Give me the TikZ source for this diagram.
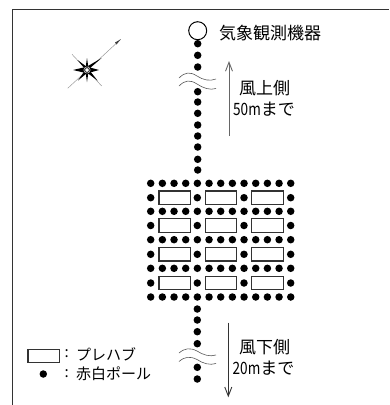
\documentclass[tikz,border=0pt]{standalone}
\usepackage{fontspec}
\usetikzlibrary{arrows.meta}
\newfontfamily\cjk{Noto Sans CJK JP}
\tikzset{
  pole/.style={circle,fill=black,inner sep=0pt,minimum size=7.5pt},
  hut/.style={draw=black!80,line width=1.2pt,fill=white,minimum width=31.5pt,minimum height=13.5pt,inner sep=0pt},
  lab/.style={font=\cjk\fontsize{17}{20}\selectfont,inner sep=0pt},
  labs/.style={font=\cjk\fontsize{15}{18}\selectfont,inner sep=0pt},
  brk/.style={black!65,line width=.6pt},
  dirn/.style={black!60,line width=.9pt,-{Straight Barb[length=9pt,width=7pt]}}
}
\newcommand{\narrow}[1]{\scalebox{0.8}[1]{#1}}
\begin{document}
\begin{tikzpicture}[x=1pt,y=-1pt]
\useasboundingbox (0,0) rectangle (389,405);
\draw[black!80,line width=1pt] (12.5,405) |- (389,9.5);
% instrument
\node[draw=black,line width=1pt,circle,minimum size=18pt,inner sep=0pt] (inst) at (197.7,30.7) {};
\node[lab,anchor=west] (instl) at (219,33.5) {気象観測機器};
% pole lines
\foreach \y in {43.7,55.3,67,91.7,102,113.3,125,136,147,159.3,170} \node[pole] at (197.7,\y) {};
\foreach \y in {309,320,331.7,343.7,367.3,379} \node[pole] at (197.3,\y) {};
% grid rows
\foreach \y in {183.3,211.3,239.7,268.3,297}
  \foreach \i in {0,...,12} \node[pole] at (150.7+11.67*\i,\y) {};
\foreach \y in {197.7,225.5,254.3,283}{
  \foreach \x in {150.7,197.3,244,290.7} \node[pole] at (\x,\y) {};
  \foreach \x in {174.8,221,267.5} \node[hut] at (\x,\y) {};
}
% breaks
\draw[brk] (179,78) .. controls (185,72) and (190,71.5) .. (197,76) .. controls (203,80) and (210,81.5) .. (216,79);
\draw[brk] (179,86) .. controls (185,80) and (190,79.5) .. (197,84) .. controls (203,88) and (210,90.5) .. (216,88.5);
\draw[brk] (179,353) .. controls (185,348) and (190,347.5) .. (197,351) .. controls (203,355) and (210,357) .. (216,355);
\draw[brk] (179,361.5) .. controls (185,356.5) and (190,356) .. (197,359.5) .. controls (203,363.5) and (210,365.5) .. (216,363.5);
% direction arrows
\coordinate (ua) at (229,136); \coordinate (ub) at (229,61);
\coordinate (da) at (228.3,322.7); \coordinate (db) at (228.3,397.3);
\draw[dirn] (ua) -- (ub);
\draw[dirn,black!80] (da) -- (db);
\node[lab] at (264.7,88) {風上側};
\node[lab] at (264,109) {\narrow{50m}まで};
\node[lab] at (264.7,347) {風下側};
\node[lab] at (263.5,368) {\narrow{20m}まで};
% legend
\node[draw=black!80,line width=1.2pt,minimum width=31.5pt,minimum height=13pt,inner sep=0pt] (lh) at (43.7,356.3) {};
\node[pole] (lp) at (43.3,374) {};
\node[labs,anchor=west] at (64.5,354) {:};
\node[labs,anchor=west] at (64.5,374) {:};
\node[labs,anchor=west] at (76,354) {プレハブ};
\node[labs,anchor=west] at (76,374) {赤白ポール};
% compass
\draw[black!40,line width=.5pt] (120.7,39.3) -- (67.7,88.3);
\draw[black!40,line width=.5pt] (72,54.3) -- (101.7,86);
\fill[black!75] (120.7,39.3) -- (115,42.5) -- (116.5,44.5) -- cycle;
\fill[black] (87,58) -- (88.3,67) -- (99,70) -- (88.3,73) -- (87,82) -- (85.7,73) -- (73,70) -- (85.7,67) -- cycle;
\fill[black] (101.7,58) -- (90,68) -- (88,66) -- cycle;
\fill[black] (97.5,80.5) -- (87.5,73) -- (90,71) -- cycle;
\fill[black] (77.5,60) -- (87,67) -- (85,69) -- cycle;
\fill[black] (78,80.5) -- (84.5,71) -- (87,73) -- cycle;
\fill[white] (87,70) circle (3.4pt);
\draw[black!85,line width=.9pt] (87,70) circle (2.4pt);
\end{tikzpicture}
\end{document}
